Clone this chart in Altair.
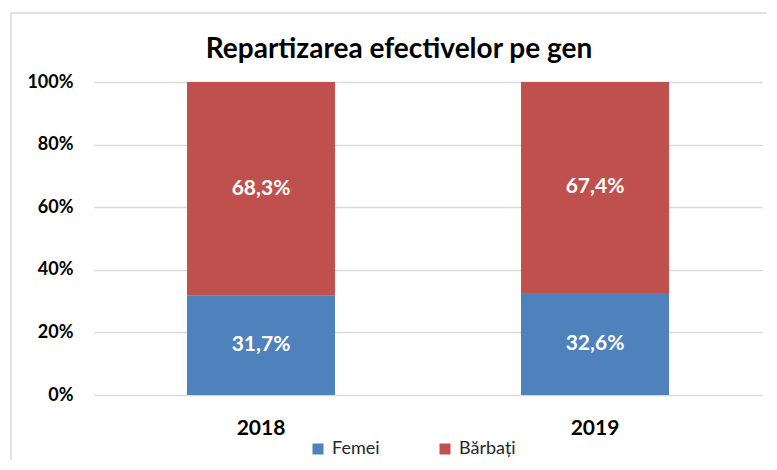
import altair as alt
import pandas as pd

years = ["2018", "2019"]
genders = ["Femei", "Bărbați"]
femei = [31.7, 32.6]
barbati = [68.3, 67.4]
y_ticks = [0, 20, 40, 60, 80, 100]
colors = ["#4F81BD", "#C0504D"]

rows = []
for i, yr in enumerate(years):
    for j, vals in enumerate([femei, barbati]):
        v = vals[i]
        rows.append({"year": yr, "gender": genders[j], "ord": j, "value": v,
                     "label": f"{v:.1f}%".replace(".", ",")})
df = pd.DataFrame(rows)

FONT = "Lato"

base = alt.Chart(df).transform_stack(
    stack="value", as_=["y0", "y1"], groupby=["year"], sort=[alt.SortField("ord")]
).transform_calculate(mid="(datum.y0 + datum.y1) / 2")

x_enc = alt.X("year:N", sort=years, title=None,
              scale=alt.Scale(paddingInner=0.557, paddingOuter=0.2785),
              axis=alt.Axis(labelAngle=0, labelFont=FONT, labelFontSize=21,
                            labelFontWeight="bold", labelColor="#000",
                            labelPadding=22, domain=False, ticks=False))

bars = base.mark_bar().encode(
    x=x_enc,
    y=alt.Y("y0:Q", scale=alt.Scale(domain=[0, 100]), title=None,
            axis=alt.Axis(values=y_ticks, labelExpr="datum.value + '%'",
                          labelFont=FONT, labelFontSize=18, labelFontWeight="bold",
                          labelColor="#000", labelPadding=21, domain=False,
                          ticks=False, grid=True, gridColor="#d9d9d9", gridWidth=1.5)),
    y2="y1:Q",
    color=alt.Color("gender:N", scale=alt.Scale(domain=genders, range=colors),
                    legend=alt.Legend(title=None, orient="none", legendX=215, legendY=358,
                                      direction="horizontal", symbolType="square",
                                      symbolSize=121, symbolStrokeWidth=0,
                                      labelFont=FONT, labelFontSize=18, labelColor="#262626",
                                      labelOffset=5, columnPadding=56)),
)

text = base.mark_text(font=FONT, fontSize=21, fontWeight="bold", color="white").encode(
    x=alt.X("year:N", sort=years),
    y=alt.Y("mid:Q"),
    text="label:N",
)

frame = alt.Chart(pd.DataFrame({"k": [0]})).mark_rect(
    fill="transparent", stroke="#d9d9d9", strokeWidth=1.5
).encode(x=alt.value(-83), x2=alt.value(720), y=alt.value(-69), y2=alt.value(430))

chart = alt.layer(frame, bars, text).properties(
    width=668, height=313,
    autosize=alt.AutoSizeParams(type="none"),
    padding={"left": 86, "top": 74, "right": 5, "bottom": 65},
    title=alt.TitleParams("Repartizarea efectivelor pe gen", font=FONT, fontSize=28,
                          fontWeight="bold", color="#000", offset=0, dy=52, dx=-29,
                          anchor="middle", frame="group"),
).configure_view(stroke=None)

chart.save("out.html", embed_options={"renderer": "svg", "actions": False})
